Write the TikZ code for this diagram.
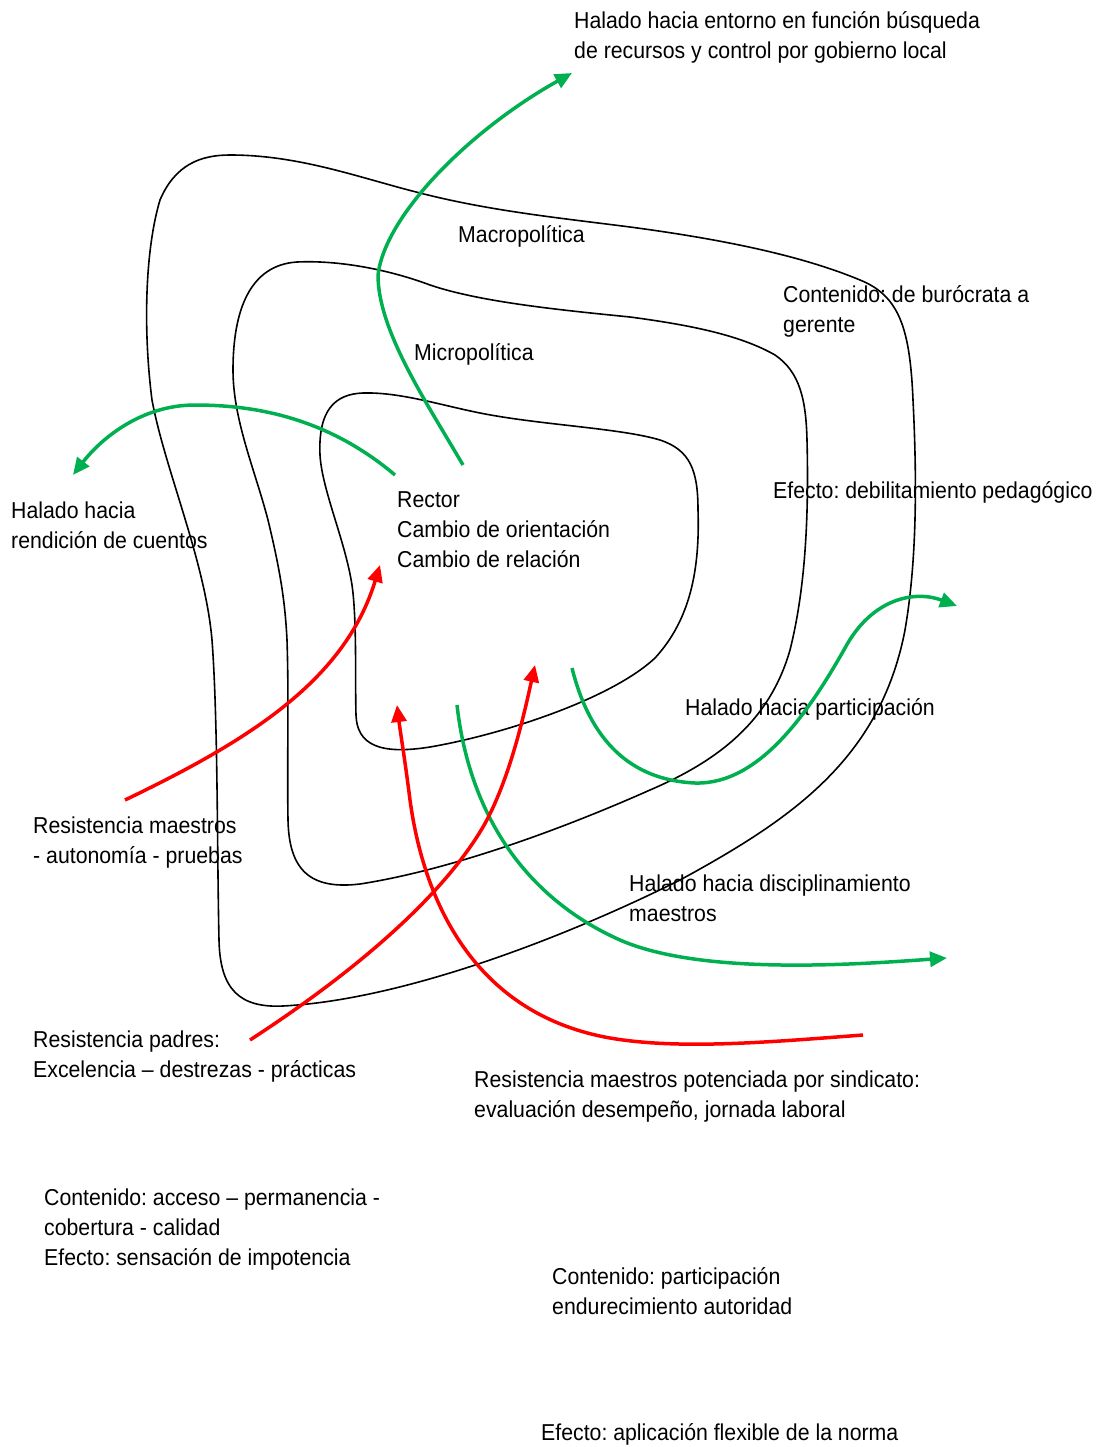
\documentclass[tikz,border=0pt]{standalone}
\usepackage{fontspec}
\setmainfont{Liberation Sans}[FakeStretch=0.925]
\usetikzlibrary{arrows.meta}
\definecolor{pullgreen}{HTML}{00B050}
\definecolor{resistred}{HTML}{FF0000}
\frenchspacing
\begin{document}
\begin{tikzpicture}[>={Triangle[length=17bp,width=15bp]},x=1bp,y=-1bp,line join=bevel,
    lbl/.style={anchor=base west,inner sep=0pt,align=left,font=\fontsize{23bp}{30bp}\selectfont},
    ring/.style={line width=1.6bp,black},
    pull/.style={line width=3.5bp,pullgreen,->},
    resist/.style={line width=3.5bp,resistred,->}]
    \useasboundingbox (0,0) rectangle (1106,1447);
    %%
    \node (top) at (574,59) [lbl] {Halado hacia entorno en función búsqueda\\de recursos y control por gobierno local};
    \node (macro) at (458,242) [lbl] {Macropolítica};
    \node (micro) at (414,360) [lbl] {Micropolítica};
    \node (burocrata) at (783,332) [lbl] {Contenido: de burócrata a\\gerente};
    \node (debil) at (773,498) [lbl] {Efecto: debilitamiento pedagógico};
    \node (rendicion) at (11,548) [lbl] {Halado hacia\\rendición de cuentos};
    \node (rector) at (397,567) [lbl] {Rector\\Cambio de orientación\\Cambio de relación};
    \node (particip) at (685,715) [lbl] {Halado hacia participación};
    \node (maestros) at (33,863) [lbl] {Resistencia maestros\\- autonomía - pruebas};
    \node (discip) at (629,921) [lbl] {Halado hacia disciplinamiento\\maestros};
    \node (padres) at (33,1077) [lbl] {Resistencia padres:\\Excelencia – destrezas - prácticas};
    \node (sindicato) at (474,1117) [lbl] {Resistencia maestros potenciada por sindicato:\\evaluación desempeño, jornada laboral};
    \node (acceso) at (44,1265) [lbl] {Contenido: acceso – permanencia -\\cobertura - calidad\\Efecto: sensación de impotencia};
    \node (partcont) at (552,1314) [lbl] {Contenido: participación\\endurecimiento autoridad};
    \node (flexible) at (541,1440) [lbl] {Efecto: aplicación flexible de la norma};
    %
    \coordinate (g1s) at (463,465);
    \coordinate (g1e) at (572,73);
    \coordinate (g2s) at (395,475);
    \coordinate (g2e) at (73,475);
    \coordinate (g3s) at (572,668);
    \coordinate (g3e) at (957,606);
    \coordinate (g4s) at (457,705);
    \coordinate (g4e) at (947,958);
    \coordinate (r1s) at (125,800);
    \coordinate (r1e) at (380,565);
    \coordinate (r2s) at (250,1040);
    \coordinate (r2e) at (535,665);
    \coordinate (r3s) at (863,1035);
    \coordinate (r3e) at (397,705);
    %% outer ring
    \draw [ring] (230,155) ..controls (300,155) and (360,178) .. (420,193)
        ..controls (490,211) and (560,218) .. (630,227)
        ..controls (720,239) and (800,255) .. (860,280)
        ..controls (900,296) and (910,330) .. (913,400)
        ..controls (917,480) and (917,560) .. (905,630)
        ..controls (880,760) and (790,820) .. (680,880)
        ..controls (560,940) and (400,1000) .. (283,1006)
        ..controls (240,1008) and (220,990) .. (219,940)
        ..controls (217,850) and (218,720) .. (212,640)
        ..controls (205,560) and (165,470) .. (152,400)
        ..controls (143,330) and (145,250) .. (160,200)
        ..controls (175,165) and (200,155) .. (230,155);
    %% middle ring
    \draw [ring] (297,262) ..controls (340,260) and (390,270) .. (430,285)
        ..controls (480,302) and (560,310) .. (630,317)
        ..controls (690,325) and (740,335) .. (775,355)
        ..controls (800,372) and (806,400) .. (807,440)
        ..controls (809,520) and (805,590) .. (790,650)
        ..controls (770,720) and (720,760) .. (650,790)
        ..controls (560,830) and (450,870) .. (360,884)
        ..controls (310,890) and (289,870) .. (288,820)
        ..controls (287,760) and (289,700) .. (287,640)
        ..controls (285,600) and (280,570) .. (268,520)
        ..controls (255,470) and (233,420) .. (233,370)
        ..controls (233,310) and (250,265) .. (297,262);
    %% inner ring
    \draw [ring] (363,393) ..controls (400,392) and (440,405) .. (480,413)
        ..controls (540,425) and (620,428) .. (660,440)
        ..controls (690,450) and (698,470) .. (698,510)
        ..controls (700,570) and (690,620) .. (655,658)
        ..controls (610,700) and (500,735) .. (430,747)
        ..controls (380,755) and (357,745) .. (356,715)
        ..controls (355,680) and (357,620) .. (352,585)
        ..controls (345,540) and (322,490) .. (320,455)
        ..controls (318,410) and (335,394) .. (363,393);
    %% pulls
    \draw [pull] (g1s) ..controls (425,400) and (378,330) .. (378,275)
        ..controls (385,215) and (470,130) .. (g1e);
    \draw [pull] (g2s) ..controls (330,420) and (260,405) .. (195,405)
        ..controls (140,405) and (100,440) .. (g2e);
    \draw [pull] (g3s) ..controls (590,740) and (630,780) .. (695,783)
        ..controls (760,785) and (810,710) .. (845,648)
        ..controls (872,598) and (915,590) .. (g3e);
    \draw [pull] (g4s) ..controls (470,820) and (530,900) .. (620,940)
        ..controls (700,975) and (850,965) .. (g4e);
    %% resistances
    \draw [resist] (r1s) ..controls (250,740) and (345,680) .. (r1e);
    \draw [resist] (r2s) ..controls (350,975) and (440,900) .. (483,827)
        ..controls (510,780) and (525,710) .. (r2e);
    \draw [resist] (r3s) ..controls (770,1042) and (680,1050) .. (610,1038)
        ..controls (480,1015) and (425,910) .. (410,800)
        ..controls (405,760) and (400,730) .. (r3e);
    %
\end{tikzpicture}
\end{document}
